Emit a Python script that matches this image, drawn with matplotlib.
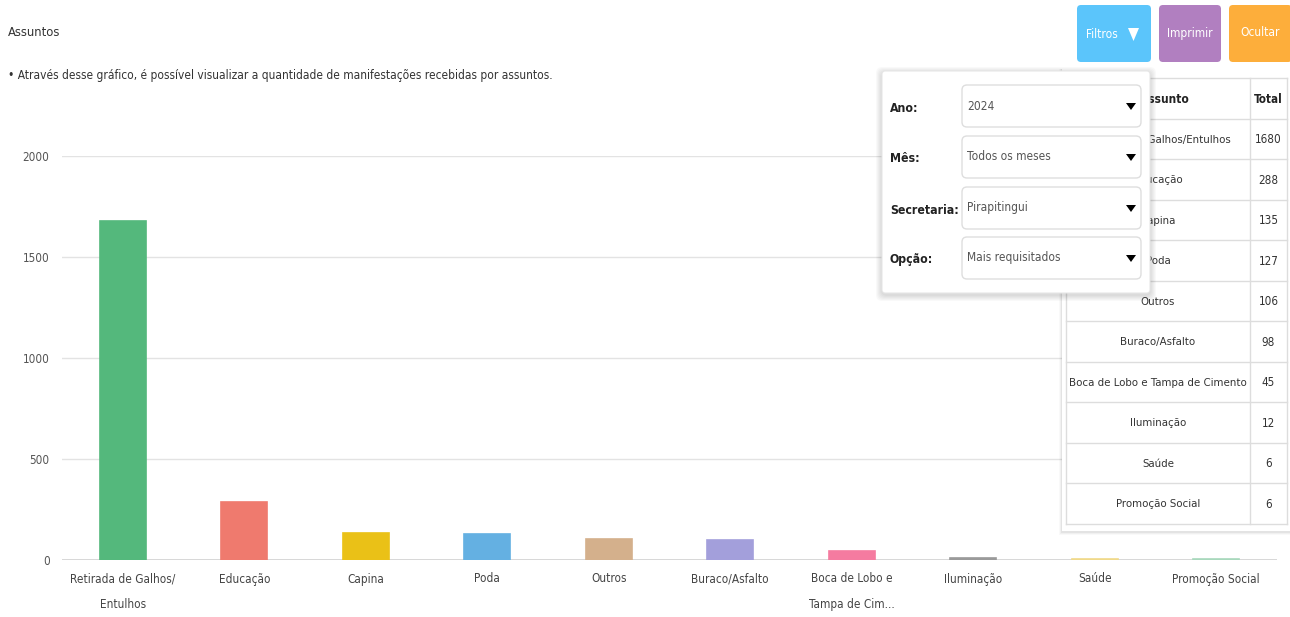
import matplotlib
matplotlib.use("Agg")
import matplotlib.pyplot as plt
from matplotlib import font_manager as fm
from matplotlib.patches import FancyBboxPatch, Rectangle, Polygon

# ---------------- data ----------------
categories = ["Retirada de Galhos/\nEntulhos", "Educação", "Capina", "Poda", "Outros",
              "Buraco/Asfalto", "Boca de Lobo e\nTampa de Cim...", "Iluminação", "Saúde",
              "Promoção Social"]
table_names = ["Retirada de Galhos/Entulhos", "Educação", "Capina", "Poda", "Outros",
               "Buraco/Asfalto", "Boca de Lobo e Tampa de Cimento", "Iluminação", "Saúde",
               "Promoção Social"]
values = [1680, 288, 135, 127, 106, 98, 45, 12, 6, 6]
bar_colors = ["#54b87c", "#ef7a6e", "#eac117", "#64b0e2", "#d4b08c",
              "#a39fdb", "#f57ba0", "#9a9a9a", "#f0d98a", "#a8d8bc"]
y_ticks = [0, 500, 1000, 1500, 2000]
filter_labels = ["Ano:", "Mês:", "Secretaria:", "Opção:"]
filter_values = ["2024", "Todos os meses", "Pirapitingui", "Mais requisitados"]
buttons = ["Filtros", "Imprimir", "Ocultar"]
button_colors = ["#5bc5fb", "#b17fc0", "#fdae3b"]
title = "Assuntos"
subtitle = "• Através desse gráfico, é possível visualizar a quantidade de manifestações recebidas por assuntos."

# ---------------- fonts ----------------
names = {f.name for f in fm.fontManager.ttflist}
if "Liberation Sans Narrow" in names:
    FONT, STRETCH = ["Liberation Sans Narrow", "DejaVu Sans"], "normal"
else:
    FONT, STRETCH = ["DejaVu Sans"], "condensed"
plt.rcParams["font.family"] = FONT
plt.rcParams["font.stretch"] = STRETCH

W, H = 1290, 617
fig = plt.figure(figsize=(W / 100, H / 100), dpi=100)
fig.patch.set_facecolor("white")

# ---------------- main chart ----------------
x0, x1, ybase, ytop = 62, 1277, 560, 156
ax = fig.add_axes([x0 / W, (H - ybase) / H, (x1 - x0) / W, (ybase - ytop) / H])
xs = list(range(len(categories)))
ax.bar(xs, values, width=0.375, color=bar_colors, edgecolor=bar_colors, linewidth=1.2, zorder=3)
ax.set_xlim(-0.5, len(categories) - 0.5)
ax.set_ylim(0, 2000)
ax.set_yticks(y_ticks)
ax.set_yticklabels([str(t) for t in y_ticks], fontsize=8.4, color="#555555")
ax.set_xticks(xs)
ax.set_xticklabels(categories, fontsize=8.5, color="#444444", linespacing=2.25, va="top")
ax.tick_params(axis="both", length=0)
ax.tick_params(axis="y", pad=9)
ax.tick_params(axis="x", pad=9)
for s in ax.spines.values():
    s.set_visible(False)
ax.yaxis.grid(True, color="#e3e3e3", lw=1, zorder=0)
ax.axhline(0, color="#d2d2d2", lw=1.2, zorder=2)
ax.set_facecolor("none")

# ---------------- overlay (pixel coordinates) ----------------
ov = fig.add_axes([0, 0, 1, 1], zorder=10)
ov.set_xlim(0, W)
ov.set_ylim(H, 0)
ov.axis("off")
ov.patch.set_alpha(0)

ov.text(8, 32, title, fontsize=9.3, color="#333333", va="center", ha="left")
ov.text(8, 76, subtitle, fontsize=8.6, color="#333333", va="center", ha="left")

# buttons
bx = [(1077, 1151), (1159, 1221), (1229, 1292)]
for (a, b), lab, col in zip(bx, buttons, button_colors):
    ov.add_patch(FancyBboxPatch((a, 5), b - a, 57, boxstyle="round,pad=0,rounding_size=4",
                                fc=col, ec="none", zorder=5))
    if lab == "Filtros":
        ov.text(1102, 35, lab, fontsize=8.6, color="white", ha="center", va="center", zorder=6)
        ov.add_patch(Polygon([(1128, 28), (1139, 28), (1133.5, 41)], closed=True, fc="white", ec="none", zorder=6))
    else:
        ov.text((a + b) / 2 if b < 1290 else 1260, 33, lab, fontsize=8.6, color="white",
                ha="center", va="center", zorder=6)

# table card with shadow
for i, al in enumerate([0.025, 0.035, 0.05]):
    d = 3 - i
    ov.add_patch(Rectangle((1062 - d, 69), 232, 463 + d, fc="black", alpha=al, ec="none", zorder=3))
ov.add_patch(Rectangle((1062, 69), 230, 462, fc="white", ec="none", zorder=3))
tl, tc, tr, tt = 1066, 1250, 1287, 78
rh = 40.5
nrows = len(table_names) + 1
for r in range(nrows + 1):
    ov.plot([tl, tr], [tt + r * rh, tt + r * rh], color="#dddddd", lw=1, zorder=4)
for xv in [tl, tc, tr]:
    ov.plot([xv, xv], [tt, tt + nrows * rh], color="#dddddd", lw=1, zorder=4)
ov.text(tc - 85, tt + rh / 2 + 1, "Assunto", fontsize=8.6, fontweight="bold", color="#222222",
        ha="center", va="center", zorder=4)
ov.text((tc + tr) / 2, tt + rh / 2 + 1, "Total", fontsize=8.4, fontweight="bold", color="#222222",
        ha="center", va="center", zorder=4)
for i, (n, v) in enumerate(zip(table_names, values)):
    yc = tt + (i + 1.5) * rh + 1
    ov.text((tl + tc) / 2, yc, n, fontsize=8.2, color="#333333", ha="center", va="center", zorder=4)
    ov.text((tc + tr) / 2, yc, str(v), fontsize=8.4, color="#333333", ha="center", va="center", zorder=4)

# filter popup with shadow
px0, py0, px1, py1 = 882, 71, 1150, 293
for i in range(6):
    d = 6 - i
    ov.add_patch(FancyBboxPatch((px0 - d, py0 - d + 2), (px1 - px0) + 2 * d, (py1 - py0) + 2 * d,
                                boxstyle="round,pad=0,rounding_size=6", fc="black", alpha=0.025,
                                ec="none", zorder=7))
ov.add_patch(FancyBboxPatch((px0, py0), px1 - px0, py1 - py0, boxstyle="round,pad=0,rounding_size=3",
                            fc="white", ec="#e6e6e6", lw=0.8, zorder=7.5))
sel_tops = [85, 136, 187, 237]
for lab, val, st in zip(filter_labels, filter_values, sel_tops):
    yc = st + 21
    ov.text(890, yc + 2, lab, fontsize=8.8, fontweight="bold", color="#222222", ha="left", va="center", zorder=8)
    ov.add_patch(FancyBboxPatch((962, st), 179, 42, boxstyle="round,pad=0,rounding_size=5",
                                fc="white", ec="#dedede", lw=1, zorder=8))
    ov.text(967, yc, val, fontsize=8.6, color="#555555", ha="left", va="center", zorder=9)
    ov.add_patch(Polygon([(1126, yc - 3), (1136, yc - 3), (1131, yc + 4)], closed=True,
                         fc="black", ec="none", zorder=9))

fig.savefig("out.png", dpi=100, facecolor="white")
